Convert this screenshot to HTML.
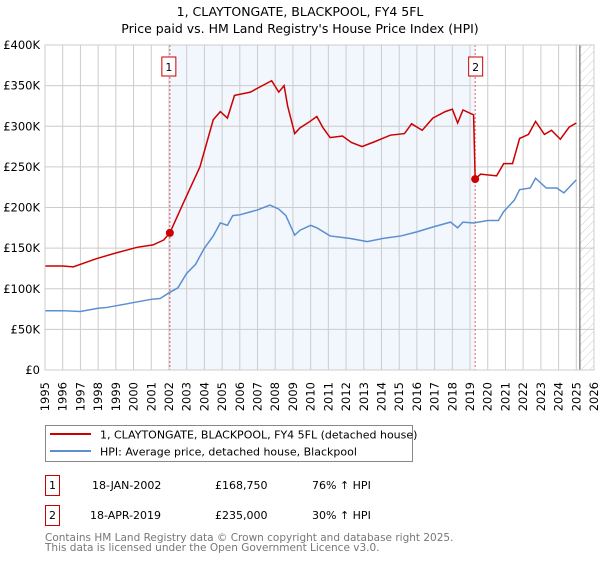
<!DOCTYPE html>
<html><head><meta charset="utf-8"><style>
body{margin:0;background:#fff;font-family:"DejaVu Sans","Liberation Sans",sans-serif;}
svg text{font-family:"DejaVu Sans","Liberation Sans",sans-serif;}
</style></head><body>
<svg id="chart" width="600" height="560" xmlns="http://www.w3.org/2000/svg">
<defs><pattern id="hatch" width="6" height="6" patternUnits="userSpaceOnUse" patternTransform="rotate(45)"><line x1="0" y1="0" x2="0" y2="6" stroke="#ccc" stroke-width="1"/></pattern></defs>
<text x="300" y="16" text-anchor="middle" font-size="12.5" fill="#000">1, CLAYTONGATE, BLACKPOOL, FY4 5FL</text>
<text x="300" y="33" text-anchor="middle" font-size="12.5" fill="#000">Price paid vs. HM Land Registry's House Price Index (HPI)</text>
<g id="plot"></g>
<g>
<rect x="45.5" y="425.5" width="367" height="36" fill="#fff" stroke="#888"/>
<line x1="50" y1="434" x2="91" y2="434" stroke="#cc0000" stroke-width="2"/>
<text x="100" y="438.5" font-size="11">1, CLAYTONGATE, BLACKPOOL, FY4 5FL (detached house)</text>
<line x1="50" y1="451" x2="91" y2="451" stroke="#5b8fd0" stroke-width="2"/>
<text x="100" y="455.5" font-size="11">HPI: Average price, detached house, Blackpool</text>
</g>
<g font-size="11">
<rect x="45.5" y="475.5" width="14" height="20" fill="#fff" stroke="#cc0000"/>
<text x="52.5" y="489" text-anchor="middle">1</text>
<text x="92" y="489">18-JAN-2002</text>
<text x="215" y="489">£168,750</text>
<text x="312" y="489">76% ↑ HPI</text>
<rect x="45.5" y="505.5" width="14" height="20" fill="#fff" stroke="#cc0000"/>
<text x="52.5" y="519" text-anchor="middle">2</text>
<text x="90" y="519">18-APR-2019</text>
<text x="215" y="519">£235,000</text>
<text x="312" y="519">30% ↑ HPI</text>
</g>
<text x="45" y="541" font-size="10.5" fill="#777">Contains HM Land Registry data © Crown copyright and database right 2025.</text>
<text x="45" y="551" font-size="10.5" fill="#777">This data is licensed under the Open Government Licence v3.0.</text>
</svg>
<script>
const hpiYears=[1995,1996,1997,1998,1998.5,1999,2000,2001,2001.5,2002,2002.5,2003,2003.5,2004,2004.5,2004.9,2005.3,2005.6,2006,2006.5,2007,2007.7,2008.2,2008.6,2009.1,2009.4,2010,2010.35,2011.1,2012.2,2013.2,2014.1,2015.1,2016,2016.9,2017.9,2018.3,2018.6,2019.2,2020,2020.6,2020.9,2021.5,2021.8,2022.4,2022.7,2023.3,2023.9,2024.3,2025];
const hpiValues=[73,73,72,76,77,79,83,87,88,95,101,119,130,150,165,181,178,190,191,194,197,203,198,190,166,172,178,175,165,162,158,162,165,170,176,182,175,182,181,184,184,195,209,222,224,236,224,224,218,234];
const priceYears=[1995,1996,1996.6,1997.9,1999,2000.2,2001.1,2001.7,2002.05,2002.8,2003.75,2004.5,2004.9,2005.3,2005.7,2006.6,2007.1,2007.8,2008.2,2008.5,2008.7,2009.1,2009.4,2009.9,2010.35,2010.7,2011.1,2011.8,2012.3,2012.9,2013.5,2014.5,2015.3,2015.7,2016.3,2016.9,2017.6,2018,2018.3,2018.6,2019.2,2019.29,2019.6,2020.5,2020.9,2021.4,2021.8,2022.3,2022.7,2023.2,2023.6,2024.1,2024.6,2025];
const priceValues=[128,128,127,137,144,151,154,160,168.75,205,250,308,318,310,338,342,348,356,342,350,325,291,298,305,312,298,286,288,280,275,280,289,291,303,295,310,318,321,304,320,314,235,241,239,254,254,285,290,306,290,295,284,299,304];
const saleYears=[2002.05,2019.29];
const saleValues=[168.75,235];
const yTicks=[0,50,100,150,200,250,300,350,400];
const yTickLabels=["£0","£50K","£100K","£150K","£200K","£250K","£300K","£350K","£400K"];
const xTicks=[1995,1996,1997,1998,1999,2000,2001,2002,2003,2004,2005,2006,2007,2008,2009,2010,2011,2012,2013,2014,2015,2016,2017,2018,2019,2020,2021,2022,2023,2024,2025,2026];

const NS="http://www.w3.org/2000/svg";
const L=45,R=594,T=45,B=370;
const xs=y=>L+(y-1995)*(R-L)/31;
const ys=v=>B-v*(B-T)/400;
const g=document.getElementById('plot');
function mk(tag,attrs,parent){const e=document.createElementNS(NS,tag);for(const k in attrs)e.setAttribute(k,attrs[k]);(parent||g).appendChild(e);return e;}

const shade=mk('rect',{x:xs(saleYears[0]),y:T,width:xs(saleYears[1])-xs(saleYears[0]),height:B-T,fill:'#eef3fc',opacity:0.75});


const hatch=mk('rect',{x:xs(2025.2),y:T,width:R-xs(2025.2),height:B-T,fill:'url(#hatch)'});



xTicks.forEach(t=>{
  const l=mk('line',{x1:xs(t),x2:xs(t),y1:T,y2:B,stroke:'#ccc','stroke-width':1});
  
  
  const tx=mk('text',{x:0,y:0,'font-size':11.5,'text-anchor':'end',transform:`translate(${xs(t)+4},382) rotate(-90)`});
  tx.textContent=t;
  
  
});
yTicks.forEach((t,i)=>{
  const l=mk('line',{x1:L,x2:R,y1:ys(t),y2:ys(t),stroke:'#ccc','stroke-width':1});
  
  
  const tx=mk('text',{x:40,y:ys(t)+4,'font-size':11.5,'text-anchor':'end'});
  tx.textContent=yTickLabels[i];
  
  
});
const nowLine=mk('line',{x1:xs(2025.2),x2:xs(2025.2),y1:T,y2:B,stroke:'#888','stroke-width':1.5});



saleYears.forEach((s,i)=>{
  const l=mk('line',{x1:xs(s),x2:xs(s),y1:T,y2:B,stroke:'#e06060','stroke-width':1,'stroke-dasharray':'2,2'});
  
  
  const b=mk('rect',{x:xs(s)-7-(i?-0.5:1),y:57,width:14,height:19,fill:'#fff',stroke:'#cc0000'});
  
  
  const tx=mk('text',{x:xs(s)-(i?-0.5:1),y:71,'font-size':11,'text-anchor':'middle'});
  tx.textContent=String(i+1);
  
  
});

const hp=mk('polyline',{points:hpiYears.map((y,i)=>xs(y)+','+ys(hpiValues[i])).join(' '),fill:'none',stroke:'#5b8fd0','stroke-width':1.5});


const pp=mk('polyline',{points:priceYears.map((y,i)=>xs(y)+','+ys(priceValues[i])).join(' '),fill:'none',stroke:'#cc0000','stroke-width':1.5});


saleYears.forEach((s,i)=>{
  const c=mk('circle',{cx:xs(s),cy:ys(saleValues[i]),r:4,fill:'#cc0000'});
  
  
});
const frame=mk('rect',{x:L,y:T,width:R-L,height:B-T,fill:'none',stroke:'#ccc'});


</script>
</body></html>
